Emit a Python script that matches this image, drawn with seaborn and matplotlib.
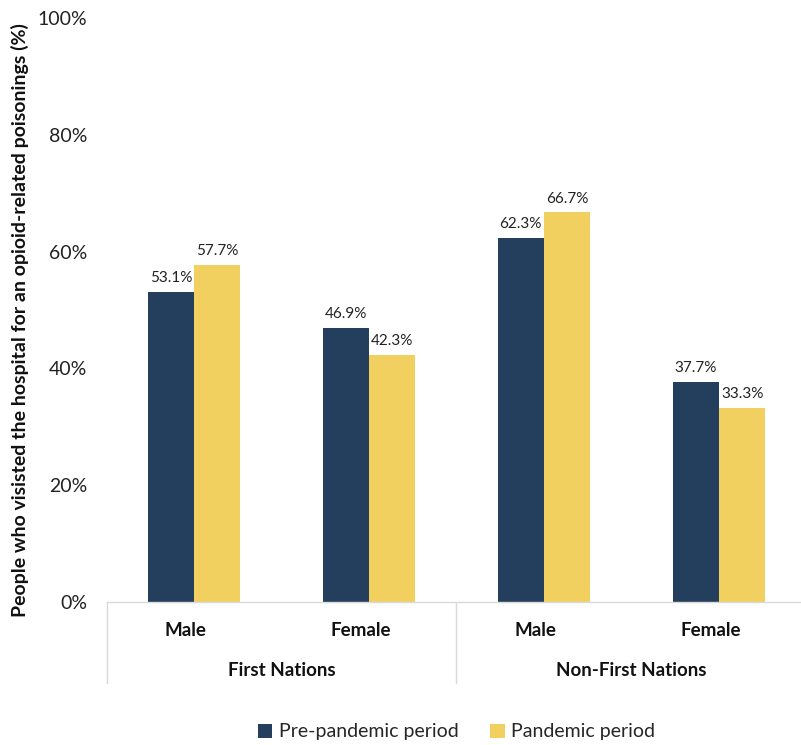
import matplotlib.pyplot as plt
import matplotlib.transforms as mtransforms
import seaborn as sns
import pandas as pd

sns.set_theme(style="white")
plt.rcParams["font.family"] = ["Lato", "DejaVu Sans"]

# ----- datos -----
groups = ["First Nations", "Non-First Nations"]
sexes = ["Male", "Female"]
slots = ["FN Male", "FN Female", "NFN Male", "NFN Female"]
pre_pandemic = [53.1, 46.9, 62.3, 37.7]
pandemic = [57.7, 42.3, 66.7, 33.3]
periods = ["Pre-pandemic period", "Pandemic period"]

df = pd.DataFrame({
    "slot": slots * 2,
    "period": [periods[0]] * 4 + [periods[1]] * 4,
    "value": pre_pandemic + pandemic,
})

colores = ["#243F5E", "#F1D060"]

fig = plt.figure(figsize=(8.01, 7.45), dpi=100)
ax = fig.add_axes([106.5 / 801, 143 / 745, 700 / 801, 584 / 745])

sns.barplot(
    data=df, x="slot", y="value", hue="period",
    order=slots, hue_order=periods, palette=colores,
    width=0.53, saturation=1, ax=ax, legend=True, linewidth=0,
)

for cont in ax.containers:
    ax.bar_label(cont, fmt="%.1f%%", padding=5, fontsize=11, color="#222222")

ax.set_ylim(0, 100)
ax.set_xlim(-0.5, 3.5)
ax.set_yticks(range(0, 101, 20))
ax.set_yticklabels([f"{v}%" for v in range(0, 101, 20)], fontsize=14, color="#222222")
ax.tick_params(axis="y", length=0, pad=14)
ax.set_xticks([])
ax.set_xlabel("")
ax.set_ylabel("People who visisted the hospital for an opioid-related poisonings (%)",
              fontsize=14, fontweight="bold", color="#111111")
ax.yaxis.set_label_coords(-0.11, 0.483)

for s in ["left", "right", "top"]:
    ax.spines[s].set_visible(False)
ax.spines["bottom"].set_color("#d9d9d9")
ax.spines["bottom"].set_linewidth(1)

# etiquetas de dos niveles en el eje x
trans = mtransforms.blended_transform_factory(ax.transData, ax.transAxes)
low = -(683 - 602) / 584
for i, slot in enumerate(slots):
    ax.text(i - 0.05, -29 / 584, sexes[i % 2], transform=trans, ha="center", va="center",
            fontsize=13.5, fontweight="bold", color="#111111")
for j, g in enumerate(groups):
    ax.text(2 * j + 0.5, -68 / 584, g, transform=trans, ha="center", va="center",
            fontsize=13.5, fontweight="bold", color="#111111")
for xpos in [-0.5, 1.5, 3.5]:
    ax.plot([xpos, xpos], [0, low], transform=trans, color="#d9d9d9", lw=1, clip_on=False)

leg = ax.legend(
    loc="center", bbox_to_anchor=(0.57, 0.0175), bbox_transform=fig.transFigure,
    ncol=2, frameon=False, fontsize=14, handlelength=0.75, handleheight=0.75,
    handletextpad=0.35, columnspacing=1.6,
)

fig.savefig("out.png", dpi=100)
